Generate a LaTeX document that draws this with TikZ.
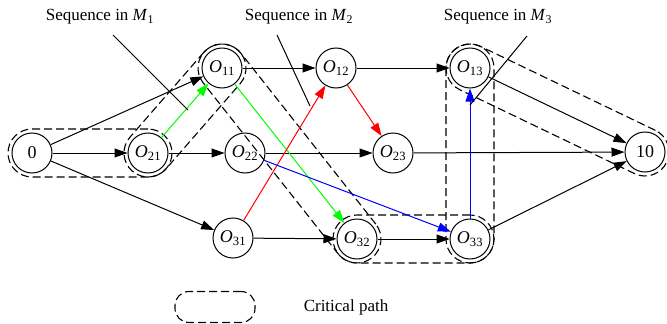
\documentclass[tikz,border=0pt]{standalone}
\usepackage{fontspec}
\setmainfont{Liberation Serif}
\usetikzlibrary{arrows.meta,calc}
\tikzset{
	op/.style={circle,draw,line width=1pt,minimum size=40pt,inner sep=0pt,font=\fontsize{18}{20}\selectfont},
	arc/.style={-{Triangle[length=13pt,width=9pt]},line width=1pt},
	crit/.style={draw=black,dash pattern=on 8pt off 4pt,line width=1.1pt,rounded corners=24pt,minimum height=48pt,inner sep=0pt},
	note/.style={font=\fontsize{17}{20}\selectfont}
}
\newcommand{\Op}[1]{\textit{O}\textsubscript{#1}}

\begin{document}
\begin{tikzpicture}[x=1pt,y=-1pt]
	\useasboundingbox (0,0) rectangle (667,324);

	% operations
	\node [op] (n0) at (32,153) {0};
	\node [op] (O21) at (148,153) {\Op{21}};
	\node [op] (O11) at (222,68) {\Op{11}};
	\node [op] (O22) at (245,153) {\Op{22}};
	\node [op] (O12) at (336,68) {\Op{12}};
	\node [op] (O13) at (470,68) {\Op{13}};
	\node [op] (O23) at (393,153) {\Op{23}};
	\node [op] (O31) at (233,238) {\Op{31}};
	\node [op] (O32) at (357,239) {\Op{32}};
	\node [op] (O33) at (470,239) {\Op{33}};
	\node [op] (n10) at (645,152) {10};

	% critical path
	\path let \p1=($(O21)-(n0)$), \n1={atan2(\y1,\x1)}, \n2={veclen(\x1,\y1)} in node [crit,rotate=\n1,minimum width=\n2+48pt] at ($(n0)!0.5!(O21)$) {};
	\path let \p1=($(O11)-(O21)$), \n1={atan2(\y1,\x1)}, \n2={veclen(\x1,\y1)} in node [crit,rotate=\n1,minimum width=\n2+48pt] at ($(O21)!0.5!(O11)$) {};
	\path let \p1=($(O32)-(O11)$), \n1={atan2(\y1,\x1)}, \n2={veclen(\x1,\y1)} in node [crit,rotate=\n1,minimum width=\n2+48pt] at ($(O11)!0.5!(O32)$) {};
	\path let \p1=($(O33)-(O32)$), \n1={atan2(\y1,\x1)}, \n2={veclen(\x1,\y1)} in node [crit,rotate=\n1,minimum width=\n2+48pt] at ($(O32)!0.5!(O33)$) {};
	\path let \p1=($(O13)-(O33)$), \n1={atan2(\y1,\x1)}, \n2={veclen(\x1,\y1)} in node [crit,rotate=\n1,minimum width=\n2+48pt] at ($(O33)!0.5!(O13)$) {};
	\path let \p1=($(n10)-(O13)$), \n1={atan2(\y1,\x1)}, \n2={veclen(\x1,\y1)} in node [crit,rotate=\n1,minimum width=\n2+48pt] at ($(O13)!0.5!(n10)$) {};

	% technological order
	\draw [arc] (n0) -- (O11);
	\draw [arc] (n0) -- (O21);
	\draw [arc] (n0) -- (O31);
	\draw [arc] (O21) -- (O22);
	\draw [arc] (O11) -- (O12);
	\draw [arc] (O12) -- (O13);
	\draw [arc] (O22) -- (O23);
	\draw [arc] (O31) -- (O32);
	\draw [arc] (O32) -- (O33);
	\draw [arc] (O23) -- (n10);
	\draw [arc] (O13) -- (n10);
	\draw [arc] (O33) -- (n10);

	% machine sequences
	\draw [arc,green] (O21) -- (O11);
	\draw [arc,green] (O11) -- (O32);
	\draw [arc,red] (O31) -- (O12);
	\draw [arc,red] (O12) -- (O23);
	\draw [arc,blue] (O22) -- (O33);
	\draw [arc,blue] (O33) -- (O13);

	% labels
	\node [note] (s1) at (100,17) {Sequence in \textit{M}\textsubscript{1}};
	\node [note] (s2) at (299,17) {Sequence in \textit{M}\textsubscript{2}};
	\node [note] (s3) at (498,17) {Sequence in \textit{M}\textsubscript{3}};
	\coordinate (s1a) at (113,35);
	\coordinate (s1b) at (188,110);
	\coordinate (s2a) at (277,35);
	\coordinate (s2b) at (310,106);
	\coordinate (s3a) at (527,36);
	\coordinate (s3b) at (470,105);
	\draw [line width=1pt] (s1a) -- (s1b);
	\draw [line width=1pt] (s2a) -- (s2b);
	\draw [line width=1pt] (s3a) -- (s3b);

	% legend
	\node [crit,minimum width=80pt,minimum height=31pt,rounded corners=14pt] (key) at (215,307) {};
	\node [note] (keytext) at (346,307) {Critical path};
\end{tikzpicture}
\end{document}
